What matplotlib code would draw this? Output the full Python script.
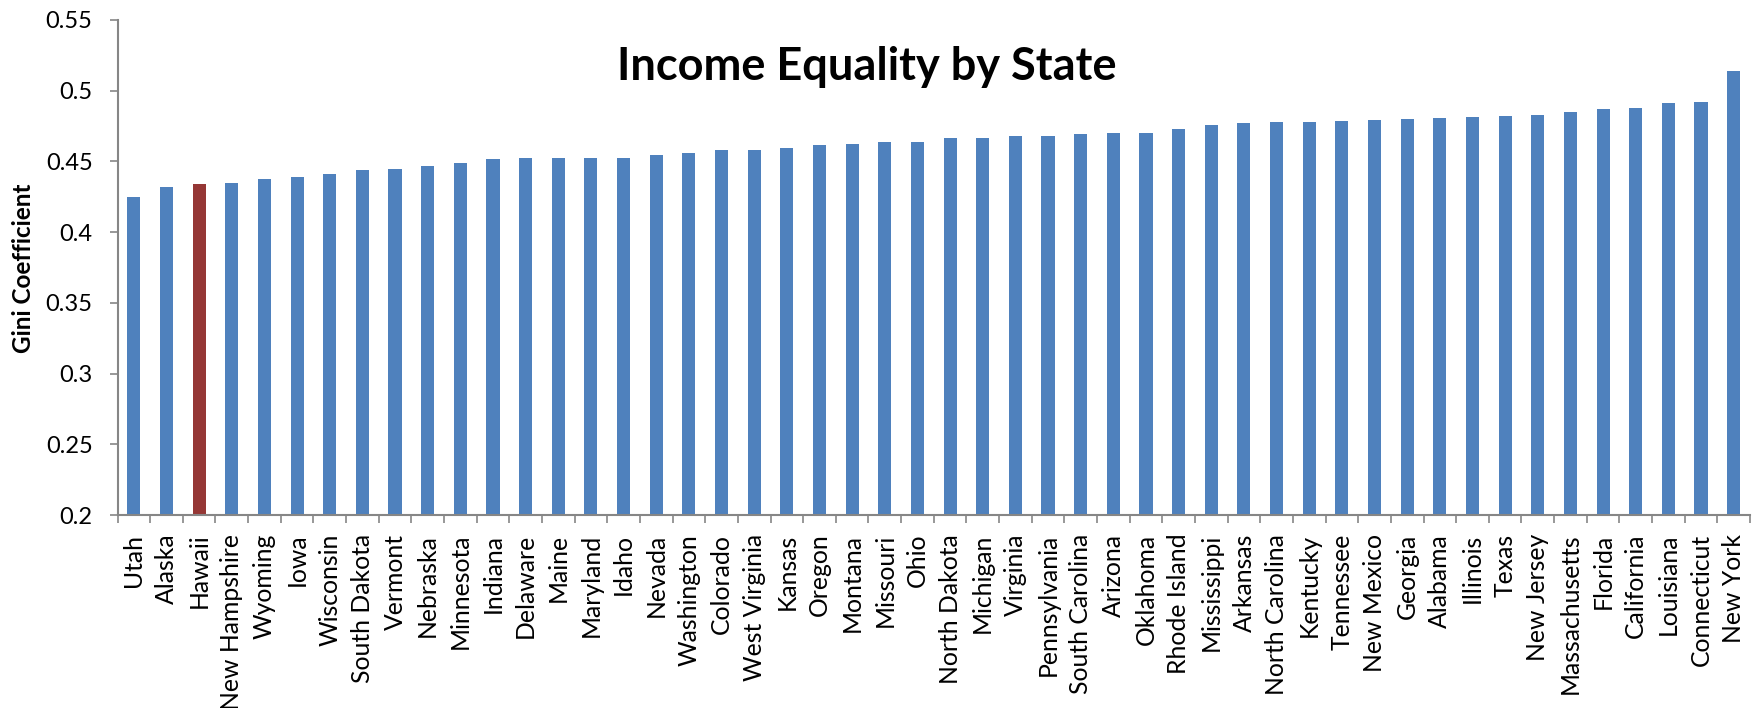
import matplotlib
matplotlib.use("Agg")
import matplotlib.pyplot as plt
import numpy as np

states = ["Utah", "Alaska", "Hawaii", "New Hampshire", "Wyoming", "Iowa", "Wisconsin",
          "South Dakota", "Vermont", "Nebraska", "Minnesota", "Indiana", "Delaware", "Maine",
          "Maryland", "Idaho", "Nevada", "Washington", "Colorado", "West Virginia", "Kansas",
          "Oregon", "Montana", "Missouri", "Ohio", "North Dakota", "Michigan", "Virginia",
          "Pennsylvania", "South Carolina", "Arizona", "Oklahoma", "Rhode Island", "Mississippi",
          "Arkansas", "North Carolina", "Kentucky", "Tennessee", "New Mexico", "Georgia",
          "Alabama", "Illinois", "Texas", "New Jersey", "Massachusetts", "Florida", "California",
          "Louisiana", "Connecticut", "New York"]

gini = [0.4252, 0.4321, 0.4342, 0.4347, 0.4375, 0.4392, 0.4410,
        0.4436, 0.4450, 0.4469, 0.4491, 0.4519, 0.4524, 0.4524,
        0.4524, 0.4524, 0.4547, 0.4558, 0.4580, 0.4580, 0.4594,
        0.4618, 0.4623, 0.4634, 0.4637, 0.4663, 0.4665, 0.4682,
        0.4682, 0.4696, 0.4703, 0.4703, 0.4731, 0.4758,
        0.4774, 0.4777, 0.4781, 0.4788, 0.4795, 0.4802,
        0.4809, 0.4816, 0.4823, 0.4830, 0.4851, 0.4873, 0.4877,
        0.4910, 0.4917, 0.5139]

highlight = "Hawaii"
yticks = [0.2, 0.25, 0.3, 0.35, 0.4, 0.45, 0.5, 0.55]
ytick_labels = ["0.2", "0.25", "0.3", "0.35", "0.4", "0.45", "0.5", "0.55"]

title = "Income Equality by State"
ylabel = "Gini Coefficient"

BLUE = "#4F81BD"
RED = "#953735"
AXIS = "#868686"
FONT = ["Lato", "DejaVu Sans"]

plt.rcParams["font.family"] = FONT

W, H = 1759, 708
fig = plt.figure(figsize=(W / 100, H / 100), dpi=100)
ax = fig.add_axes([117.5 / W, 1 - 515 / H, (1750 - 117.5) / W, (515 - 20) / H])

x = np.arange(len(states))
colors = [RED if s == highlight else BLUE for s in states]
ax.bar(x, gini, width=0.4, color=colors, edgecolor="none", zorder=2)

ax.set_xlim(-0.5, len(states) - 0.5)
ax.set_ylim(0.2, 0.55)

ax.set_yticks(yticks)
ax.set_yticklabels(ytick_labels, fontsize=17)
ax.tick_params(axis="y", direction="out", length=6, width=1.2, color=AXIS, pad=12)

ax.set_xticks(x)
ax.set_xticklabels(states, rotation=90, fontsize=17.8, ha="center", va="top")
ax.set_xticks(np.arange(len(states) + 1) - 0.5, minor=True)
ax.tick_params(axis="x", which="major", length=0, pad=13.5)
ax.tick_params(axis="x", which="minor", direction="out", length=6, width=1.2, color=AXIS)

for side in ["top", "right"]:
    ax.spines[side].set_visible(False)
for side in ["left", "bottom"]:
    ax.spines[side].set_color(AXIS)
    ax.spines[side].set_linewidth(1.5)

fig.text(867 / W, 1 - 80 / H, title, ha="center", va="baseline",
         fontsize=32.5, fontweight="bold")
fig.text(23.5 / W, 1 - 268 / H, ylabel, rotation=90, ha="center", va="center",
         fontsize=17.5, fontweight="bold")

fig.savefig("out.png", dpi=100)
